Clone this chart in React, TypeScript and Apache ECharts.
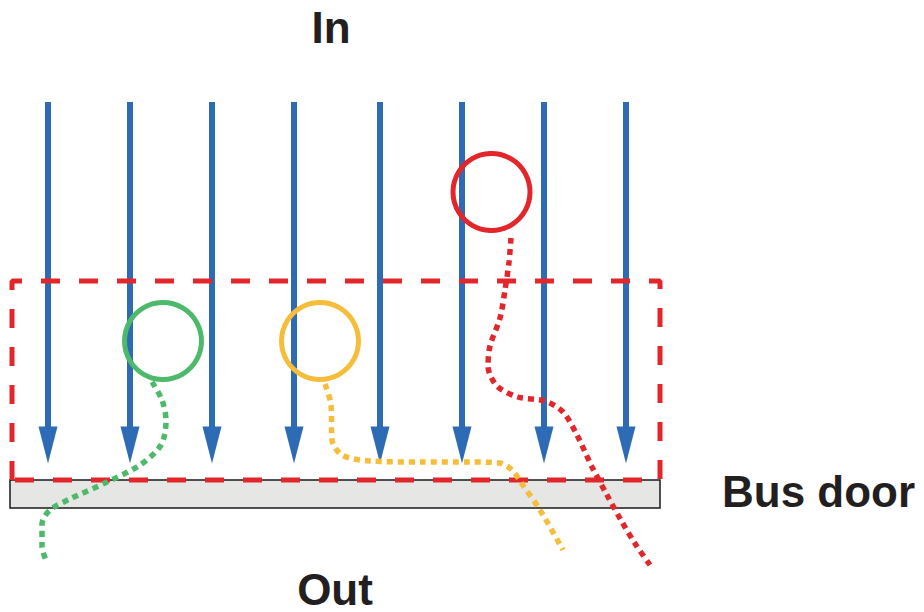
import React, { useEffect, useRef } from "react";
import * as echarts from "echarts";

const arrowX = [48, 130, 212, 294, 380, 462, 544, 626];
const arrowTopY = 102;
const arrowShaftEndY = 432;
const arrowHeadY = 445;

const zoneRect = [
  [12, 480],
  [12, 281],
  [660, 281],
  [660, 480],
  [12, 480],
];
const doorRect = [10, 480, 660, 508];

const greenCircle = [163, 341];
const orangeCircle = [320, 341];
const redCircle = [491.5, 192];

const greenPath = [
  [152, 382],
  [162, 400],
  [166, 421],
  [161, 445],
  [140, 465],
  [105, 483],
  [70, 499],
  [50, 510],
  [42, 524],
  [42, 546],
  [47, 563],
];
const orangePath = [
  [325, 384],
  [331, 405],
  [332, 440],
  [342, 455],
  [370, 461],
  [420, 462],
  [470, 462],
  [500, 463],
  [512, 470],
  [522, 484],
  [540, 510],
  [563, 550],
];
const redPath = [
  [511, 238],
  [509, 262],
  [505, 290],
  [500, 318],
  [490, 346],
  [488, 366],
  [497, 386],
  [518, 397],
  [545, 401],
  [563, 412],
  [577, 435],
  [592, 467],
  [607, 495],
  [622, 522],
  [636, 545],
  [650, 565],
];

const textLabels = ["In", "Out", "Bus door"];

const BLUE = "#2d6bb4";
const RED = "#e2262a";
const GREEN = "#4dba6b";
const ORANGE = "#f6bd3a";
const TEXT = "#231f20";

export default function App() {
  const ref = useRef<HTMLDivElement>(null);
  useEffect(() => {
    if (!ref.current) return;
    const chart = echarts.init(ref.current, null, { renderer: "svg" });
    const font = 'bold 44px "Liberation Sans", Arial, sans-serif';
    const ring = (c: string) => ({
      color: "rgba(0,0,0,0)",
      borderColor: c,
      borderWidth: 5,
      opacity: 1,
    });
    chart.setOption({
      animation: false,
      backgroundColor: "#ffffff",
      grid: { left: 0, right: 0, top: 0, bottom: 0 },
      xAxis: { type: "value", min: 0, max: 924, show: false },
      yAxis: { type: "value", min: 0, max: 612, inverse: true, show: false },
      series: [
        {
          type: "custom",
          z: 1,
          data: [doorRect],
          renderItem: (params: any, api: any) => {
            const p1 = api.coord([api.value(0), api.value(1)]);
            const p2 = api.coord([api.value(2), api.value(3)]);
            return {
              type: "rect",
              shape: { x: p1[0], y: p1[1], width: p2[0] - p1[0], height: p2[1] - p1[1] },
              style: { fill: "#e6e6e4", stroke: "#1a1a1a", lineWidth: 1.5 },
            };
          },
        },
        {
          type: "lines",
          coordinateSystem: "cartesian2d",
          z: 2,
          lineStyle: { color: BLUE, width: 6, opacity: 1 },
          data: arrowX.map((x) => ({ coords: [[x, arrowTopY], [x, arrowShaftEndY]] })),
        },
        {
          type: "scatter",
          z: 2,
          symbol: "triangle",
          symbolRotate: 180,
          symbolSize: [19, 37],
          itemStyle: { color: BLUE, opacity: 1 },
          data: arrowX.map((x) => [x, arrowHeadY]),
        },
        {
          type: "line",
          z: 3,
          symbol: "none",
          lineStyle: { color: RED, width: 5, type: [19, 19], opacity: 1 },
          data: zoneRect,
        },
        {
          type: "line",
          z: 4,
          symbol: "none",
          smooth: 0.3,
          lineStyle: { color: GREEN, width: 5.5, type: [6, 5], opacity: 1 },
          data: greenPath,
        },
        {
          type: "line",
          z: 4,
          symbol: "none",
          smooth: 0.3,
          lineStyle: { color: ORANGE, width: 5.5, type: [6, 5], opacity: 1 },
          data: orangePath,
        },
        {
          type: "line",
          z: 4,
          symbol: "none",
          smooth: 0.3,
          lineStyle: { color: RED, width: 5.5, type: [6, 5], opacity: 1 },
          data: redPath,
        },
        {
          type: "scatter",
          z: 5,
          symbol: "circle",
          symbolSize: 77,
          data: [
            { value: greenCircle, itemStyle: ring(GREEN) },
            { value: orangeCircle, itemStyle: ring(ORANGE) },
            { value: redCircle, itemStyle: ring(RED) },
          ],
        },
      ],
      graphic: [
        {
          type: "text",
          x: 331,
          y: 49,
          style: { text: textLabels[0], font, fill: TEXT, textAlign: "center", textVerticalAlign: "bottom" },
        },
        {
          type: "text",
          x: 335,
          y: 611,
          style: { text: textLabels[1], font, fill: TEXT, textAlign: "center", textVerticalAlign: "bottom" },
        },
        {
          type: "text",
          x: 722,
          y: 513,
          style: { text: textLabels[2], font, fill: TEXT, textAlign: "left", textVerticalAlign: "bottom" },
        },
      ],
    });
    return () => chart.dispose();
  }, []);
  return (
    <div
      ref={ref}
      style={{ position: "fixed", left: 0, top: 0, width: 924, height: 612 }}
    />
  );
}
